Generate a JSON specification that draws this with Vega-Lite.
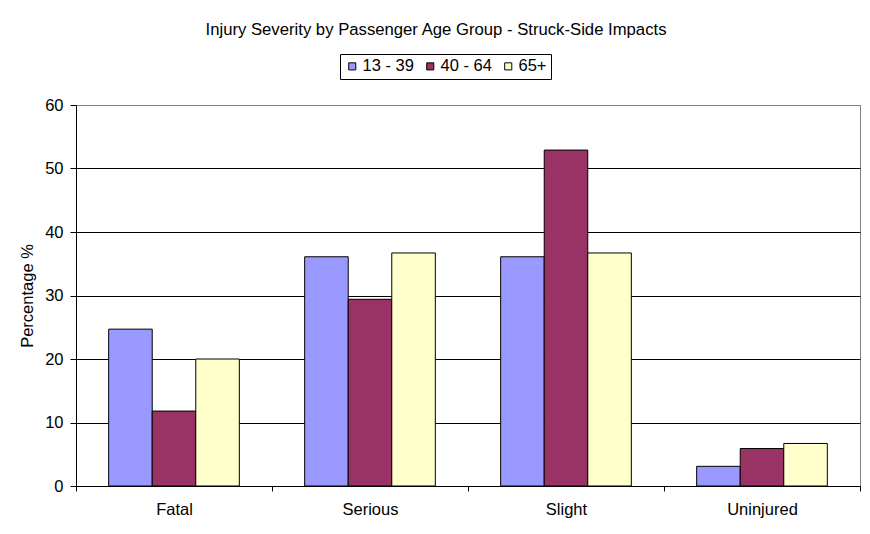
{
  "$schema": "https://vega.github.io/schema/vega-lite/v6.json",
  "width": 784,
  "height": 381,
  "autosize": {"type": "none"},
  "padding": {"left": 76, "top": 105, "right": 10, "bottom": 48},
  "background": "white",
  "title": {
    "text": "Injury Severity by Passenger Age Group - Struck-Side Impacts",
    "fontSize": 16.7,
    "fontWeight": "normal",
    "color": "black",
    "anchor": "middle",
    "frame": "group",
    "dx": -32,
    "offset": 15
  },
  "data": {
    "values": [
      {"severity": "Fatal", "age": "13 - 39", "pct": 24.7},
      {"severity": "Fatal", "age": "40 - 64", "pct": 11.8},
      {"severity": "Fatal", "age": "65+", "pct": 20.0},
      {"severity": "Serious", "age": "13 - 39", "pct": 36.1},
      {"severity": "Serious", "age": "40 - 64", "pct": 29.4},
      {"severity": "Serious", "age": "65+", "pct": 36.7},
      {"severity": "Slight", "age": "13 - 39", "pct": 36.1},
      {"severity": "Slight", "age": "40 - 64", "pct": 52.9},
      {"severity": "Slight", "age": "65+", "pct": 36.7},
      {"severity": "Uninjured", "age": "13 - 39", "pct": 3.1},
      {"severity": "Uninjured", "age": "40 - 64", "pct": 5.9},
      {"severity": "Uninjured", "age": "65+", "pct": 6.7}
    ]
  },
  "mark": {"type": "bar", "stroke": "black", "strokeWidth": 1},
  "encoding": {
    "x": {
      "field": "severity",
      "type": "nominal",
      "sort": ["Fatal", "Serious", "Slight", "Uninjured"],
      "scale": {"paddingInner": 0, "paddingOuter": 0},
      "axis": {
        "title": null,
        "labelAngle": 0,
        "tickBand": "extent",
        "domainColor": "black",
        "tickColor": "black",
        "tickSize": 5,
        "labelPadding": 10,
        "labelFontSize": 16.5,
        "labelColor": "black",
        "grid": false
      }
    },
    "xOffset": {
      "field": "age",
      "type": "nominal",
      "sort": ["13 - 39", "40 - 64", "65+"],
      "scale": {"paddingInner": 0, "paddingOuter": 0.75}
    },
    "y": {
      "field": "pct",
      "type": "quantitative",
      "scale": {"domain": [0, 60], "nice": false},
      "axis": {
        "title": "Percentage %",
        "values": [0, 10, 20, 30, 40, 50, 60],
        "grid": true,
        "gridColor": {"condition": {"test": "datum.value == 60", "value": "#808080"}, "value": "black"},
        "domainColor": "black",
        "tickColor": "black",
        "tickSize": 6,
        "labelPadding": 7,
        "labelFontSize": 16.5,
        "labelColor": "black",
        "titleFontSize": 16.5,
        "titleFontWeight": "normal",
        "titleColor": "black",
        "titlePadding": 9
      }
    },
    "color": {
      "field": "age",
      "type": "nominal",
      "sort": ["13 - 39", "40 - 64", "65+"],
      "scale": {"domain": ["13 - 39", "40 - 64", "65+"], "range": ["#9999FF", "#993366", "#FFFFCC"]},
      "legend": {
        "title": null,
        "orient": "none",
        "legendX": 264,
        "legendY": -51,
        "direction": "horizontal",
        "strokeColor": "black",
        "padding": 4,
        "symbolType": "square",
        "symbolSize": 50,
        "symbolStrokeColor": "black",
        "symbolStrokeWidth": 1,
        "symbolOpacity": 1,
        "labelFontSize": 16.5,
        "labelColor": "black",
        "labelOffset": 2,
        "columnPadding": 8
      }
    }
  },
  "config": {
    "font": "Liberation Sans",
    "view": {"stroke": "#808080", "strokeWidth": 1}
  }
}
